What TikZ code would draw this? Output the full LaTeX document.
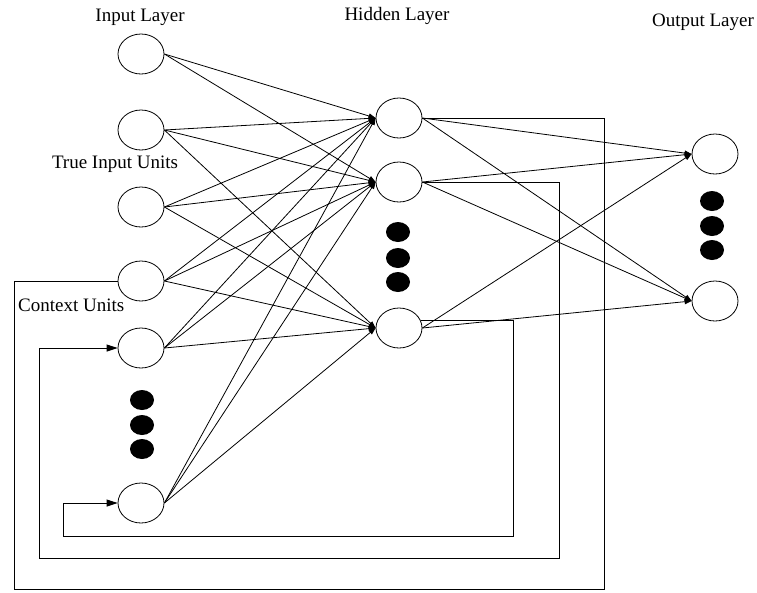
\documentclass[tikz,border=0pt]{standalone}
\usepackage{fontspec}
\setmainfont{Liberation Serif}
\usetikzlibrary{shapes.geometric,arrows.meta}
\begin{document}
\begin{tikzpicture}[x=1pt,y=-1pt,
  unit/.style={ellipse,draw,line width=0.8pt,minimum width=46pt,minimum height=40pt,inner sep=0pt},
  dotfill/.style={fill=black},
  lbl/.style={font=\fontsize{19}{22}\selectfont,anchor=base,inner sep=0pt},
  conn/.style={line width=0.8pt,-{Triangle[length=7pt,width=5pt]}},
  fb/.style={line width=0.9pt},
  fbarrow/.style={line width=0.9pt,-{Triangle[length=11pt,width=7pt]}}]
\useasboundingbox (0,0) rectangle (757,592);

% labels
\node[lbl] (tIn) at (140,21) {Input Layer};
\node[lbl] (tHid) at (397,20) {Hidden Layer};
\node[lbl] (tOut) at (703,26) {Output Layer};
\node[lbl] (tTrue) at (115,168) {True Input Units};
\node[lbl,anchor=base west] (tCtx) at (18,311) {Context Units};

% input layer
\node[unit] (I1) at (141,54) {};
\node[unit] (I2) at (141,130) {};
\node[unit] (I3) at (141,207) {};
\node[unit] (I4) at (141,281) {};
\node[unit] (C1) at (141,348) {};
\node[unit] (CN) at (141,503) {};

% hidden layer
\node[unit] (H1) at (399,118) {};
\node[unit] (H2) at (399,182) {};
\node[unit] (H3) at (399,328) {};

% output layer
\node[unit] (O1) at (715,154) {};
\node[unit] (O2) at (715,301) {};

% ellipsis dots
\foreach \y in {400,425,449} \fill[dotfill] (142,\y) ellipse [x radius=12, y radius=10];
\foreach \y in {232,258,282} \fill[dotfill] (398,\y) ellipse [x radius=12, y radius=10];
\foreach \y in {201,226,250} \fill[dotfill] (712,\y) ellipse [x radius=12, y radius=10];

% input -> hidden
\foreach \s/\t in {I1/H1,I1/H2,
                   I2/H1,I2/H2,I2/H3,
                   I3/H1,I3/H2,I3/H3,
                   I4/H1,I4/H2,I4/H3,
                   C1/H1,C1/H2,C1/H3,
                   CN/H1,CN/H2,CN/H3}
  \draw[conn] (\s.east) -- (\t.west);

% hidden -> output
\foreach \s/\t in {H1/O1,H1/O2,H2/O1,H2/O2,H3/O1,H3/O2}
  \draw[conn] (\s.east) -- (\t.west);

% feedback loops
\coordinate (f1a) at (604,118);
\coordinate (f1b) at (604,589);
\coordinate (f1c) at (14,589);
\coordinate (f1d) at (14,281);
\draw[fb] (H1.east) -- (f1a) -- (f1b) -- (f1c) -- (f1d) -- (I4.west);

\coordinate (f2a) at (559,182);
\coordinate (f2b) at (559,558);
\coordinate (f2c) at (39,558);
\coordinate (f2d) at (39,348);
\draw[fbarrow] (H2.east) -- (f2a) -- (f2b) -- (f2c) -- (f2d) -- (C1.west);

\coordinate (f3x) at (513,321);
\coordinate (f3b) at (513,536);
\coordinate (f3c) at (63,536);
\coordinate (f3d) at (63,503);
\draw[fbarrow] (H3.18) -- (H3.18 -| f3x) -- (f3b) -- (f3c) -- (f3d) -- (CN.west);
\end{tikzpicture}
\end{document}
